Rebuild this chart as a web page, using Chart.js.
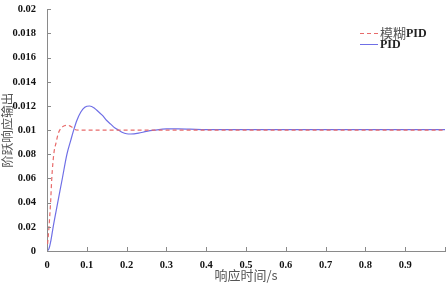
<!DOCTYPE html>
<html>
<head>
<meta charset="utf-8">
<script src="https://cdn.jsdelivr.net/npm/chart.js@4"></script>
<style>
  html, body { margin: 0; padding: 0; background: #fff; }
  #wrap { width: 448px; height: 283px; position: relative; }
</style>
</head>
<body>
<div id="wrap"><canvas id="c"></canvas></div>
<script>
// fuzzy PID step response
const fuzzyT = [0, 0.005, 0.009, 0.012, 0.017, 0.023, 0.028, 0.032, 0.04, 0.053, 0.06, 0.065, 0.07, 0.08, 0.1, 0.2, 0.3, 0.4, 0.5, 0.6, 0.7, 0.8, 0.9, 1.0];
const fuzzyY = [0, 0.0020, 0.0040, 0.0060, 0.0080, 0.0090, 0.0097, 0.0100, 0.0103, 0.0104, 0.0103, 0.0102, 0.01005, 0.0100, 0.0100, 0.0100, 0.0100, 0.0100, 0.0100, 0.0100, 0.0100, 0.0100, 0.0100, 0.0100];

// PID step response
const pidT = [0, 0.005, 0.01, 0.015, 0.02, 0.0275, 0.0385, 0.05, 0.06, 0.067, 0.075, 0.085, 0.095, 0.107, 0.12, 0.13, 0.14, 0.15, 0.16, 0.17, 0.18, 0.19, 0.2, 0.21, 0.23, 0.25, 0.27, 0.3, 0.33, 0.36, 0.4, 0.5, 0.6, 0.7, 0.8, 0.9, 1.0];
const pidY = [0, 0.0002, 0.0009, 0.0019, 0.0028, 0.0041, 0.0060, 0.0080, 0.0092, 0.0100, 0.0108, 0.0115, 0.0119, 0.0120, 0.0118, 0.0115, 0.0112, 0.0108, 0.0105, 0.0102, 0.0100, 0.0098, 0.0097, 0.00968, 0.00975, 0.0099, 0.0100, 0.0101, 0.0101, 0.01008, 0.01005, 0.01005, 0.01005, 0.01005, 0.01005, 0.01005, 0.01005];

// tick labels as printed on the original
const yTickLabels = ["0", "0.02", "0.04", "0.06", "0.08", "0.01", "0.012", "0.014", "0.016", "0.018", "0.02"];
const xTickLabels = ["0", "0.1", "0.2", "0.3", "0.4", "0.5", "0.6", "0.7", "0.8", "0.9", ""];

const seriesNames = ["模糊PID", "PID"];

const toPoints = (xs, ys) => xs.map((x, i) => ({ x: x, y: ys[i] }));

const tickFont = { family: "Liberation Serif", size: 10.5, weight: "bold" };
const axisGray = "#8a8a8a";

// small inward tick marks
const innerTicks = {
  id: "innerTicks",
  afterDraw(chart) {
    const ctx = chart.ctx;
    const xs = chart.scales.x, ys = chart.scales.y;
    ctx.save();
    ctx.strokeStyle = axisGray;
    ctx.lineWidth = 1;
    ctx.beginPath();
    xs.ticks.forEach(t => {
      const px = Math.round(xs.getPixelForValue(t.value)) + 0.5;
      ctx.moveTo(px, ys.bottom);
      ctx.lineTo(px, ys.bottom - 4);
    });
    ys.ticks.forEach(t => {
      const py = Math.round(ys.getPixelForValue(t.value)) + 0.5;
      ctx.moveTo(xs.left, py);
      ctx.lineTo(xs.left + 4, py);
    });
    ctx.stroke();
    ctx.restore();
  }
};

// legend inside the plot, top right
const innerLegend = {
  id: "innerLegend",
  afterDraw(chart) {
    const ctx = chart.ctx;
    const x0 = 360, y0 = 33, gap = 11;
    ctx.save();
    chart.data.datasets.forEach((ds, i) => {
      const y = y0 + i * gap;
      ctx.strokeStyle = ds.borderColor;
      ctx.lineWidth = 1;
      ctx.setLineDash(ds.borderDash || []);
      ctx.beginPath();
      ctx.moveTo(x0, y + 0.5);
      ctx.lineTo(x0 + 18, y + 0.5);
      ctx.stroke();
      ctx.setLineDash([]);
      ctx.textBaseline = "middle";
      let tx = x0 + 20;
      const m = ds.label.match(/^(.*?)(PID)$/);
      if (m && m[1]) {
        ctx.font = "13px 'Noto Sans CJK SC'";
        ctx.fillStyle = "#555";
        ctx.fillText(m[1], tx, y);
        tx += ctx.measureText(m[1]).width;
      }
      ctx.font = "bold 12px 'Liberation Serif'";
      ctx.fillStyle = "#222";
      ctx.fillText("PID", tx, y + 1);
    });
    ctx.restore();
  }
};

new Chart(document.getElementById("c"), {
  type: "scatter",
  data: {
    datasets: [
      {
        label: seriesNames[0],
        data: toPoints(fuzzyT, fuzzyY),
        showLine: true,
        borderColor: "#e86b6b",
        borderWidth: 1.2,
        borderDash: [4, 3],
        pointRadius: 0,
        cubicInterpolationMode: "monotone"
      },
      {
        label: seriesNames[1],
        data: toPoints(pidT, pidY),
        showLine: true,
        borderColor: "#6f6fe6",
        borderWidth: 1.2,
        pointRadius: 0,
        cubicInterpolationMode: "monotone"
      }
    ]
  },
  options: {
    responsive: true,
    maintainAspectRatio: false,
    animation: false,
    layout: { padding: { top: 9, right: 3, left: 0, bottom: 0 } },
    plugins: {
      legend: { display: false },
      tooltip: { enabled: false }
    },
    scales: {
      x: {
        type: "linear",
        min: 0,
        max: 1,
        border: { color: axisGray },
        grid: { display: false },
        afterFit: s => { s.height = 32; },
        ticks: {
          stepSize: 0.1,
          padding: 0,
          maxRotation: 0,
          autoSkip: false,
          color: "#111",
          font: tickFont,
          callback: (v, i) => xTickLabels[i]
        },
        title: {
          display: true,
          text: "响应时间/s",
          color: "#555",
          padding: { top: 0, bottom: 0 },
          font: { family: "Noto Sans CJK SC", size: 13 }
        }
      },
      y: {
        min: 0,
        max: 0.02,
        border: { color: axisGray },
        grid: { display: false },
        afterFit: s => { s.width = 47; },
        ticks: {
          stepSize: 0.002,
          padding: 3,
          autoSkip: false,
          color: "#111",
          font: tickFont,
          callback: (v, i) => yTickLabels[i]
        },
        title: {
          display: true,
          text: "阶跃响应输出",
          color: "#555",
          padding: { top: 0, bottom: 0 },
          font: { family: "Noto Sans CJK SC", size: 12.5 }
        }
      }
    }
  },
  plugins: [innerTicks, innerLegend]
});
</script>
</body>
</html>
